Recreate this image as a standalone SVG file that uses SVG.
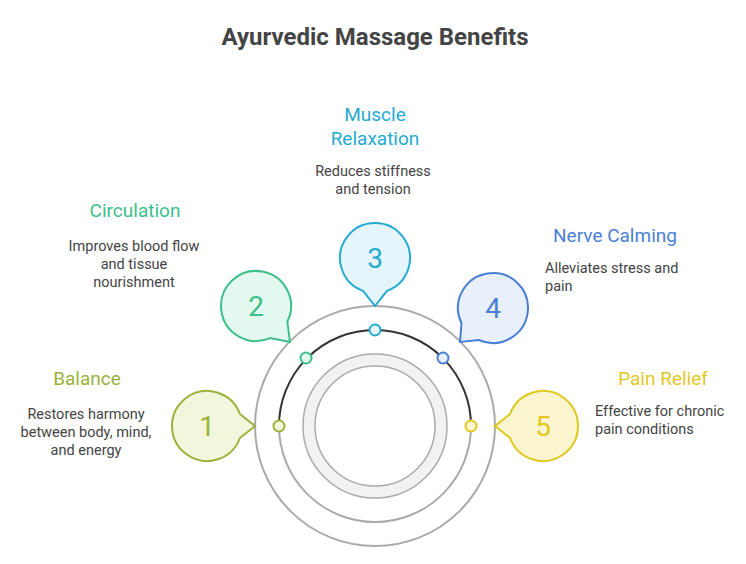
<svg xmlns="http://www.w3.org/2000/svg" width="746" height="564" viewBox="0 0 746 564">
<style>
text{font-family:Roboto,"Liberation Sans",sans-serif}
.t{font-size:24px;font-weight:bold;fill:#444}
.h{font-size:19px}
.d{font-size:14.5px;fill:#444}
.n{font-size:28px}
.b{stroke-width:2}
</style>
<rect width="746" height="564" fill="#fff"/>
<text class="t" x="375" y="45" text-anchor="middle">Ayurvedic Massage Benefits</text>
<g id="center">
<circle cx="375" cy="426" r="120" fill="none" stroke="#aaa" stroke-width="2"/>
<path d="M279 426 A96 96 0 0 0 471 426" fill="none" stroke="#aaa" stroke-width="2"/>
<circle cx="375" cy="426" r="66" fill="none" stroke="#f2f2f2" stroke-width="12"/>
<circle cx="375" cy="426" r="72" fill="none" stroke="#aaa" stroke-width="1.5"/>
<circle cx="375" cy="426" r="60" fill="none" stroke="#aaa" stroke-width="1.5"/>
</g>
<g id="connectors">
<path d="M279 426 A96 96 0 0 1 471 426" fill="none" stroke="#333" stroke-width="2"/>
</g>
<g id="n1">
<path class="b" d="M239.9 438 A35 35 0 1 1 239.9 414 L255 426 Z" fill="#f1f6dc" stroke="#9ab23a"/>
<text class="n" x="207" y="436" text-anchor="middle" fill="#9ab23a">1</text>
<circle cx="279" cy="426" r="5.5" fill="#f1f6dc" stroke="#9ab23a" stroke-width="2"/>
<text class="h" x="87" y="385" text-anchor="middle" fill="#9ab23a">Balance</text>
<text class="d" text-anchor="middle"><tspan x="86" y="419">Restores harmony</tspan><tspan x="86" y="437">between body, mind,</tspan><tspan x="86" y="455">and energy</tspan></text>
</g>
<g id="n2">
<path class="b" d="M269.9 338.1 A35 35 0 1 1 287.3 321.7 L290 342 Z" fill="#e3f8ef" stroke="#3dbf8a"/>
<text class="n" x="256" y="316" text-anchor="middle" fill="#3dbf8a">2</text>
<circle cx="306" cy="358" r="5.5" fill="#e3f8ef" stroke="#3dbf8a" stroke-width="2"/>
<text class="h" x="135" y="217" text-anchor="middle" fill="#3dbf8a">Circulation</text>
<text class="d" text-anchor="middle"><tspan x="134" y="251">Improves blood flow</tspan><tspan x="134" y="269">and tissue</tspan><tspan x="134" y="287">nourishment</tspan></text>
</g>
<g id="n3">
<path class="b" d="M363 290.9 A35 35 0 1 1 387 290.9 L375 306 Z" fill="#e4f6fb" stroke="#26aad0"/>
<text class="n" x="375" y="268" text-anchor="middle" fill="#26aad0">3</text>
<circle cx="375" cy="330" r="5.5" fill="#e4f6fb" stroke="#26aad0" stroke-width="2"/>
<text class="h" text-anchor="middle" fill="#26aad0"><tspan x="375" y="121">Muscle</tspan><tspan x="375" y="145">Relaxation</tspan></text>
<text class="d" text-anchor="middle"><tspan x="373" y="176">Reduces stiffness</tspan><tspan x="373" y="194">and tension</tspan></text>
</g>
<g id="n4">
<path class="b" d="M461.5 323.3 A35 35 0 1 1 478.8 340 L460 342 Z" fill="#e8f0fb" stroke="#4a7fd6"/>
<text class="n" x="493" y="318" text-anchor="middle" fill="#4a7fd6">4</text>
<circle cx="443" cy="358" r="5.5" fill="#e8f0fb" stroke="#4a7fd6" stroke-width="2"/>
<text class="h" x="615" y="242" text-anchor="middle" fill="#4a7fd6">Nerve Calming</text>
<text class="d"><tspan x="545" y="273">Alleviates stress and</tspan><tspan x="545" y="291">pain</tspan></text>
</g>
<g id="n5">
<path class="b" d="M510.1 414 A35 35 0 1 1 510.1 438 L495 426 Z" fill="#fbf5cf" stroke="#e0c81f"/>
<text class="n" x="543" y="436" text-anchor="middle" fill="#e0c81f">5</text>
<circle cx="471" cy="426" r="5.5" fill="#fbf5cf" stroke="#e0c81f" stroke-width="2"/>
<text class="h" x="663" y="385" text-anchor="middle" fill="#e0c81f">Pain Relief</text>
<text class="d"><tspan x="595" y="416">Effective for chronic</tspan><tspan x="595" y="434">pain conditions</tspan></text>
</g>
</svg>
